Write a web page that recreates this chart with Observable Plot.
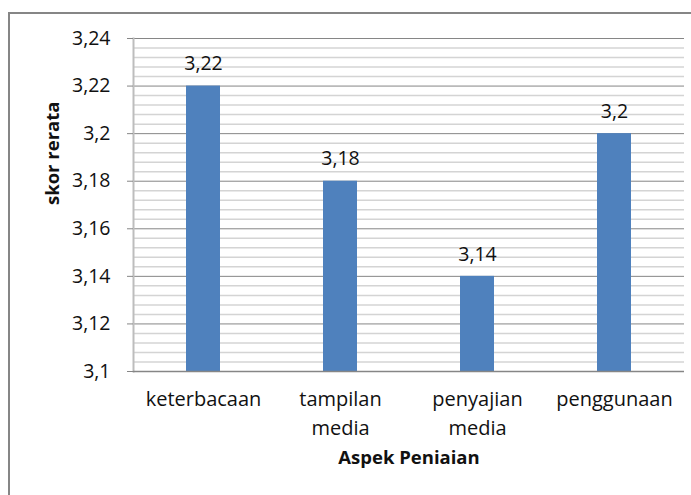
<!DOCTYPE html>
<html>
<head>
<meta charset="utf-8">
<script src="https://cdn.jsdelivr.net/npm/d3@7"></script>
<script src="https://cdn.jsdelivr.net/npm/@observablehq/plot@0.6"></script>
<style>
  html, body { margin: 0; padding: 0; background: #fff; }
  #wrap { position: relative; width: 691px; height: 495px; overflow: hidden; font-family: "Open Sans", sans-serif; }
  #frame { position: absolute; left: 8px; top: 12px; width: 700px; height: 500px; border-left: 2px solid #868686; border-top: 2px solid #868686; pointer-events: none; }
  #chart { position: absolute; left: 0; top: 0; }
</style>
</head>
<body>
<div id="wrap"><div id="chart"></div><div id="frame"></div></div>
<script>
const categories = ["keterbacaan", "tampilan\nmedia", "penyajian\nmedia", "penggunaan"];
const values = [3.22, 3.18, 3.14, 3.20];
const majorTicks = [3.10, 3.12, 3.14, 3.16, 3.18, 3.20, 3.22, 3.24];
const minorStep = 0.004;
const yTitle = "skor rerata";
const xTitle = "Aspek Peniaian";

const data = categories.map((c, i) => ({cat: c, value: values[i]}));
const fmt = d => String(+d.toFixed(4)).replace(".", ",");
const minorTicks = d3.range(0, 36).map(i => +(3.10 + i * minorStep).toFixed(4))
  .filter(v => !majorTicks.some(m => Math.abs(m - v) < 1e-6));

const textColor = "#111";
const chart = Plot.plot({
  width: 691,
  height: 495,
  marginLeft: 133,
  marginRight: 7,
  marginTop: 38,
  marginBottom: 124,
  style: {fontFamily: "Open Sans", fontSize: "19px", color: textColor, background: "transparent"},
  x: {type: "band", domain: categories, paddingInner: 0.753, paddingOuter: 0.3765, label: null},
  y: {domain: [3.10, 3.24], label: null},
  marks: [
    Plot.ruleY(minorTicks, {stroke: "#d4d4d4", strokeWidth: 1.5}),
    Plot.ruleY(majorTicks, {stroke: "#868686", strokeWidth: 1}),
    Plot.frame({anchor: "left", stroke: "#bdbdbd", strokeWidth: 2}),
    Plot.barY(data, {x: "cat", y1: 3.10, y2: "value", fill: "#4f81bd"}),
    Plot.ruleY([3.10], {stroke: "#868686", strokeWidth: 1.5}),
    Plot.axisY({ticks: majorTicks, tickFormat: fmt, tickSize: 6, tickPadding: 17, stroke: "#868686", fontSize: 19.5, fill: textColor, label: null}),
    Plot.axisX({tickSize: 0, tickPadding: 14, fontSize: 20, lineHeight: 1.45, fill: textColor, label: null}),
    Plot.text(data, {x: "cat", y: "value", text: d => fmt(d.value), dy: -22, fontSize: 19.5, fill: textColor}),
    Plot.text([yTitle], {frameAnchor: "left", rotate: -90, dx: -80, fontSize: 18.5, fontWeight: "bold", fill: textColor}),
    Plot.text([xTitle], {frameAnchor: "bottom", dy: 92, fontSize: 18.5, fontWeight: "bold", fill: textColor})
  ]
});
document.getElementById("chart").appendChild(chart);
</script>
</body>
</html>
